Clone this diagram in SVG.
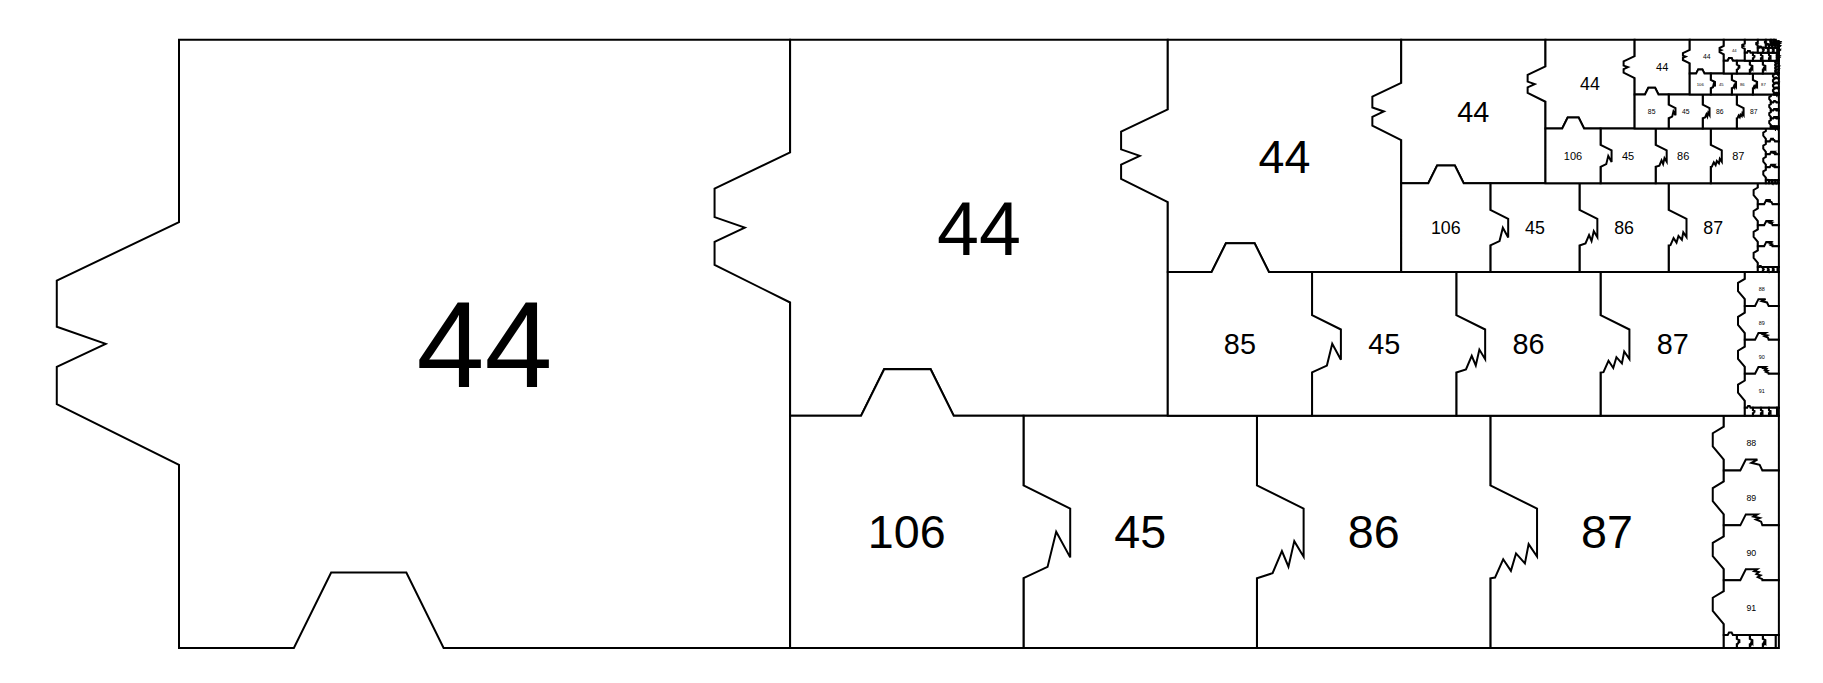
<svg xmlns="http://www.w3.org/2000/svg" xmlns:xlink="http://www.w3.org/1999/xlink" width="1823" height="683" viewBox="0 0 1823 683">
<style>
.pc{fill:#fff;stroke:#000;stroke-width:2;vector-effect:non-scaling-stroke;stroke-linejoin:miter}
text{font-family:"Liberation Sans",Arial,sans-serif;text-anchor:middle;fill:#000}
.t{font-size:0.2px}
.tc{font-size:0.16px}
</style>
<defs>
<path id="p44" class="pc" d="M0,0H1V1H0.433L0.372,0.876H0.249L0.188,1H0V0.699L-0.2,0.599V0.538L-0.12,0.5L-0.2,0.472V0.396L0,0.3Z"/>
<path id="pFirst" class="pc" d="M0,0H0.304L0.403,-0.2H0.602L0.701,0H1V0.3L1.2,0.4V0.61L1.14,0.5L1.103,0.651L1,0.699V1H0Z"/>
<path id="p45" class="pc" d="M0,0H1V0.3L1.2,0.4V0.607L1.16,0.54L1.135,0.65L1.107,0.583L1.067,0.678L1,0.7V1H0Z"/>
<path id="p86" class="pc" d="M0,0H1V0.3L1.2,0.4V0.606L1.164,0.553L1.148,0.636L1.11,0.593L1.088,0.668L1.055,0.618L1.02,0.697L1,0.7V1H0Z"/>
<path id="pSq" class="pc" d="M0,0H1V1H0Z"/>
<path id="pC88" class="pc" d="M0,0H1V1H0V0.8L-0.2,0.56V0.32L0,0.2Z"/>
<path id="pC89" class="pc" d="M0,0H0.3L0.4,-0.2H0.61L0.5,-0.14L0.651,-0.103L0.7,0H1V1H0V0.8L-0.2,0.56V0.32L0,0.2Z"/>
<path id="pC90" class="pc" d="M0,0H0.3L0.4,-0.2H0.607L0.54,-0.16L0.65,-0.135L0.583,-0.107L0.678,-0.067L0.7,0H1V1H0V0.8L-0.2,0.56V0.32L0,0.2Z"/>
<path id="pC91" class="pc" d="M0,0H0.3L0.4,-0.2H0.606L0.553,-0.164L0.636,-0.148L0.593,-0.11L0.668,-0.088L0.618,-0.055L0.697,-0.02L0.7,0H1V1H0V0.8L-0.2,0.56V0.32L0,0.2Z"/>
<g id="tinyRow">
<use href="#pSq" x="3"/>
<use href="#p86" x="2"/>
<use href="#p45" x="1"/>
<use href="#pFirst"/>
<path class="pc" d="M4,0H4.236V1H4Z"/>
</g>
<g id="rowBody">
<use href="#pSq" x="3"/>
<use href="#p86" x="2"/>
<use href="#p45" x="1"/>
<g transform="translate(4,0) scale(0.236068)">
<use href="#pC88"/>
<use href="#pC89" y="1"/>
<use href="#pC90" y="2"/>
<use href="#pC91" y="3"/>
<g transform="translate(0,4) scale(0.236068)"><use href="#tinyRow"/></g>
</g>
</g>
</defs>
<g id="connectors"/>
<g id="diagram" transform="translate(179,39.7) scale(611.1,608.3)">
<g id="n44-0"><use href="#p44"/><text class="t" x="0.5" y="0.5716">44</text></g>
<g id="n44-1" transform="translate(1,0) scale(0.618034)"><use href="#p44"/><text class="t" x="0.5" y="0.5716">44</text></g>
<g id="row-1" transform="translate(1,0.618034) scale(0.381966)">
<g id="n87-a"><use href="#pSq" x="3"/><text class="t" x="3.5" y="0.5716">87</text></g>
<g id="n86-a"><use href="#p86" x="2"/><text class="t" x="2.5" y="0.5716">86</text></g>
<g id="n45-a"><use href="#p45" x="1"/><text class="t" x="1.5" y="0.5716">45</text></g>
<g id="n106-a"><use href="#pFirst"/><text class="t" x="0.5" y="0.5716">106</text></g>
<g id="col-a" transform="translate(4,0) scale(0.236068)">
<g id="n88-a"><use href="#pC88"/><text class="tc" x="0.5" y="0.557">88</text></g>
<g id="n89-a"><use href="#pC89" y="1"/><text class="tc" x="0.5" y="1.557">89</text></g>
<g id="n90-a"><use href="#pC90" y="2"/><text class="tc" x="0.5" y="2.557">90</text></g>
<g id="n91-a"><use href="#pC91" y="3"/><text class="tc" x="0.5" y="3.557">91</text></g>
<g id="tiny-a" transform="translate(0,4) scale(0.236068)"><use href="#tinyRow"/></g>
</g>
</g>
<g id="n44-2" transform="translate(1.618034,0) scale(0.381966)"><use href="#p44"/><text class="t" x="0.5" y="0.5716">44</text></g>
<g id="row-2" transform="translate(1.618034,0.381966) scale(0.236068)">
<g id="n87-b"><use href="#pSq" x="3"/><text class="t" x="3.5" y="0.5716">87</text></g>
<g id="n86-b"><use href="#p86" x="2"/><text class="t" x="2.5" y="0.5716">86</text></g>
<g id="n45-b"><use href="#p45" x="1"/><text class="t" x="1.5" y="0.5716">45</text></g>
<g id="n85-b"><use href="#pFirst"/><text class="t" x="0.5" y="0.5716">85</text></g>
<g id="col-b" transform="translate(4,0) scale(0.236068)">
<g id="n88-b"><use href="#pC88"/><text class="tc" x="0.5" y="0.557">88</text></g>
<g id="n89-b"><use href="#pC89" y="1"/><text class="tc" x="0.5" y="1.557">89</text></g>
<g id="n90-b"><use href="#pC90" y="2"/><text class="tc" x="0.5" y="2.557">90</text></g>
<g id="n91-b"><use href="#pC91" y="3"/><text class="tc" x="0.5" y="3.557">91</text></g>
<g id="tiny-b" transform="translate(0,4) scale(0.236068)"><use href="#tinyRow"/></g>
</g>
</g>
<g id="n44-3" transform="translate(2,0) scale(0.236068)"><use href="#p44"/><text class="t" x="0.5" y="0.5716">44</text></g>
<g id="row-3" transform="translate(2,0.236068) scale(0.145898)"><use href="#rowBody"/><use href="#pFirst"/><text class="t" x="0.5" y="0.5716">106</text><text class="t" x="1.5" y="0.5716">45</text><text class="t" x="2.5" y="0.5716">86</text><text class="t" x="3.5" y="0.5716">87</text></g>
<g id="n44-4" transform="translate(2.236068,0) scale(0.145898)"><use href="#p44"/><text class="t" x="0.5" y="0.5716">44</text></g>
<g id="row-4" transform="translate(2.236068,0.145898) scale(0.090170)"><use href="#rowBody"/><use href="#pFirst"/><text class="t" x="0.5" y="0.5716">106</text><text class="t" x="1.5" y="0.5716">45</text><text class="t" x="2.5" y="0.5716">86</text><text class="t" x="3.5" y="0.5716">87</text></g>
<g id="n44-5" transform="translate(2.381966,0) scale(0.090170)"><use href="#p44"/><text class="t" x="0.5" y="0.5716">44</text></g>
<g id="row-5" transform="translate(2.381966,0.090170) scale(0.055728)"><use href="#rowBody"/><use href="#pFirst"/><text class="t" x="0.5" y="0.5716">85</text><text class="t" x="1.5" y="0.5716">45</text><text class="t" x="2.5" y="0.5716">86</text><text class="t" x="3.5" y="0.5716">87</text></g>
<g id="n44-6" transform="translate(2.472136,0) scale(0.055728)"><use href="#p44"/><text class="t" x="0.5" y="0.5716">44</text></g>
<g id="row-6" transform="translate(2.472136,0.055728) scale(0.034442)"><use href="#rowBody"/><use href="#pFirst"/><text class="t" x="0.5" y="0.5716">106</text><text class="t" x="1.5" y="0.5716">45</text><text class="t" x="2.5" y="0.5716">86</text><text class="t" x="3.5" y="0.5716">87</text></g>
<g id="n44-7" transform="translate(2.527864,0) scale(0.034442)"><use href="#p44"/><text class="t" x="0.5" y="0.5716">44</text></g>
<g id="row-7" transform="translate(2.527864,0.034442) scale(0.021286)"><use href="#rowBody"/><use href="#pFirst"/></g>
<g id="n44-8" transform="translate(2.562306,0) scale(0.021286)"><use href="#p44"/></g>
<g id="row-8" transform="translate(2.562306,0.021286) scale(0.013156)"><use href="#rowBody"/><use href="#pFirst"/></g>
<g id="n44-9" transform="translate(2.583592,0) scale(0.013156)"><use href="#p44"/></g>
<g id="row-9" transform="translate(2.583592,0.013156) scale(0.008131)"><use href="#rowBody"/><use href="#pFirst"/></g>
<g id="n44-10" transform="translate(2.596748,0) scale(0.008131)"><use href="#p44"/></g>
<g id="row-10" transform="translate(2.596748,0.008131) scale(0.005025)"><use href="#rowBody"/><use href="#pFirst"/></g>
<g id="n44-11" transform="translate(2.604879,0) scale(0.005025)"><use href="#p44"/></g>
<g id="row-11" transform="translate(2.604879,0.005025) scale(0.003106)"><use href="#rowBody"/><use href="#pFirst"/></g>
<g id="n44-12" transform="translate(2.609904,0) scale(0.003106)"><use href="#p44"/></g>
<g id="row-12" transform="translate(2.609904,0.003106) scale(0.001919)"><use href="#rowBody"/><use href="#pFirst"/></g>
</g>
</svg>
